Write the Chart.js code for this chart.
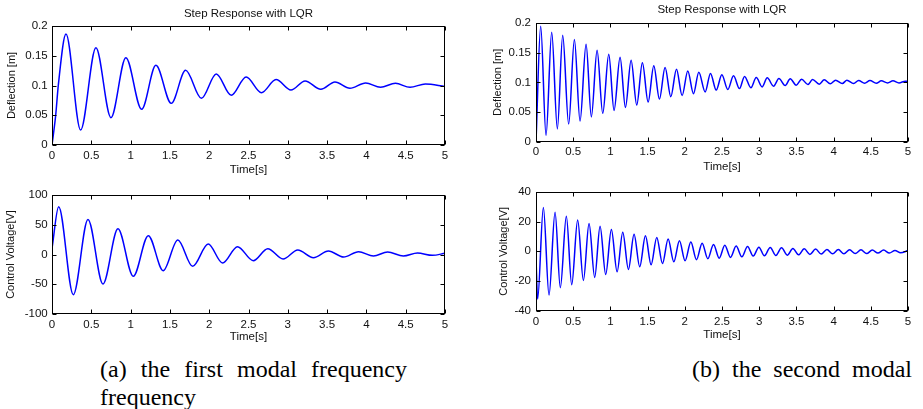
<!DOCTYPE html>
<html><head><meta charset="utf-8">
<script src="https://cdn.jsdelivr.net/npm/chart.js@4"></script>
<style>
html,body{margin:0;padding:0;background:#fff;}
body{width:923px;height:409px;position:relative;overflow:hidden;}
canvas{position:absolute;}
.cap{position:absolute;font-family:"Liberation Serif","Times New Roman",serif;font-size:24px;line-height:28px;color:#000;white-space:nowrap;}
.just{white-space:normal;text-align:justify;text-align-last:justify;}
</style></head><body>
<canvas id="c1" width="460" height="180" style="left:0;top:0"></canvas>
<canvas id="c2" width="460" height="170" style="left:0;top:180px"></canvas>
<canvas id="c3" width="463" height="180" style="left:460px;top:0"></canvas>
<canvas id="c4" width="463" height="170" style="left:460px;top:180px"></canvas>
<div class="cap just" style="left:100px;top:355px;width:307px">(a) the first modal frequency</div>
<div class="cap" style="left:100px;top:383px">frequency</div>
<div class="cap just" style="left:692px;top:355px;width:220px">(b) the second modal</div>
<script>
// ---------- data ----------
const titleText = 'Step Response with LQR';
const xTitle = 'Time[s]';
const yTitleDefl = 'Deflection [m]';
const yTitleVolt = 'Control Voltage[V]';

const xTicks = [0, 0.5, 1, 1.5, 2, 2.5, 3, 3.5, 4, 4.5, 5];
const xTickLabels = ['0', '0.5', '1', '1.5', '2', '2.5', '3', '3.5', '4', '4.5', '5'];
const yTicksDefl = [0, 0.05, 0.1, 0.15, 0.2];
const yTickLabelsDefl = ['0', '0.05', '0.1', '0.15', '0.2'];
const yTicksVoltA = [-100, -50, 0, 50, 100];
const yTickLabelsVoltA = ['-100', '-50', '0', '50', '100'];
const yTicksVoltB = [-40, -20, 0, 20, 40];
const yTickLabelsVoltB = ['-40', '-20', '0', '20', '40'];

// (a) first modal frequency - deflection
const timeDeflA = [0, 0.047, 0.08, 0.178, 0.364, 0.559, 0.75, 0.94, 1.14, 1.322, 1.517, 1.70, 1.90, 2.09, 2.28, 2.47, 2.665, 2.85, 3.04, 3.22, 3.42, 3.60, 3.79, 3.99, 4.18, 4.37, 4.555, 4.75, 5.0];
const deflA = [0, 0.05, 0.1, 0.1866, 0.0252, 0.1636, 0.046, 0.1468, 0.060, 0.134, 0.070, 0.1255, 0.0784, 0.1193, 0.0835, 0.1143, 0.088, 0.110, 0.0924, 0.1076, 0.0936, 0.1059, 0.0952, 0.1042, 0.097, 0.1036, 0.097, 0.1025, 0.0985];

// (a) first modal frequency - control voltage
const timeVoltA = [0, 0.085, 0.271, 0.458, 0.648, 0.839, 1.034, 1.225, 1.415, 1.60, 1.79, 1.987, 2.17, 2.36, 2.56, 2.745, 2.94, 3.127, 3.326, 3.517, 3.71, 3.90, 4.09, 4.27, 4.47, 4.65, 4.84, 5.0];
const voltA = [10, 80.4, -67.5, 59, -49.6, 43.4, -36.7, 31.7, -27.2, 24.4, -19.9, 17.6, -14.3, 13.2, -10.4, 9.8, -7.6, 7.6, -5.3, 5.9, -4.2, 4.8, -2.5, 4.2, -2.5, 2.5, -1.4, 2];

// (b) second modal frequency - deflection
const timeDeflB = [0, 0.063, 0.135, 0.211, 0.287, 0.359, 0.439, 0.516, 0.592, 0.673, 0.744, 0.821, 0.897, 0.978, 1.049, 1.130, 1.202, 1.278, 1.354, 1.430, 1.507, 1.583, 1.659, 1.735, 1.812, 1.888, 1.964, 2.040, 2.117, 2.188, 2.274, 2.345, 2.422, 2.498, 2.578, 2.655, 2.735, 2.803, 2.888, 2.960, 3.040, 3.108, 3.193, 3.265, 3.350, 3.417, 3.498, 3.570, 3.655, 3.717, 3.807, 3.874, 3.955, 4.027, 4.117, 4.179, 4.269, 4.336, 4.417, 4.489, 4.574, 4.641, 4.726, 4.798, 4.879, 4.964, 5.0];
const deflB = [0, 0.194, 0.011, 0.184, 0.022, 0.179, 0.030, 0.172, 0.035, 0.164, 0.042, 0.154, 0.048, 0.147, 0.053, 0.142, 0.058, 0.137, 0.062, 0.133, 0.067, 0.128, 0.072, 0.125, 0.076, 0.122, 0.078, 0.119, 0.081, 0.117, 0.084, 0.115, 0.087, 0.1126, 0.088, 0.111, 0.0896, 0.110, 0.091, 0.108, 0.0924, 0.1076, 0.0936, 0.1064, 0.0947, 0.1059, 0.0952, 0.1053, 0.0964, 0.1047, 0.097, 0.1042, 0.0975, 0.1036, 0.098, 0.1036, 0.098, 0.103, 0.0986, 0.103, 0.0986, 0.1025, 0.099, 0.1025, 0.099, 0.102, 0.1015];

// (b) second modal frequency - control voltage
const timeVoltB = [0, 0.022, 0.099, 0.175, 0.256, 0.327, 0.408, 0.48, 0.56, 0.637, 0.713, 0.789, 0.861, 0.937, 1.013, 1.09, 1.166, 1.242, 1.318, 1.394, 1.471, 1.547, 1.623, 1.70, 1.776, 1.852, 1.928, 2.004, 2.081, 2.157, 2.233, 2.309, 2.386, 2.462, 2.538, 2.614, 2.69, 2.767, 2.843, 2.919, 2.996, 3.07, 3.148, 3.224, 3.30, 3.377, 3.453, 3.529, 3.605, 3.682, 3.758, 3.834, 3.91, 3.987, 4.063, 4.139, 4.215, 4.291, 4.368, 4.444, 4.52, 4.596, 4.672, 4.749, 4.825, 4.90, 5.0];
const voltB = [-5, -32.2, 29.5, -29.5, 26.3, -24.5, 23.6, -22.5, 21, -19.6, 18.7, -17.6, 16.9, -15.6, 14.7, -13.8, 12.9, -12.2, 11.5, -10.4, 10.4, -9.1, 9.3, -8.2, 8.2, -7.1, 7.1, -6.4, 6.2, -5.7, 5.5, -5.0, 4.6, -4.6, 4.1, -4.1, 3.5, -3.7, 3.2, -3.2, 2.8, -3.0, 2.6, -2.8, 2.4, -2.6, 1.9, -2.4, 1.7, -2.1, 1.5, -1.9, 1.2, -1.7, 1.2, -1.7, 1.0, -1.5, 1.0, -1.5, 0.8, -1.2, 0.8, -1.2, 0.6, -1.0, 0.5];

// ---------- rendering ----------
Chart.defaults.font.family = '"Liberation Sans", Arial, Helvetica, sans-serif';
Chart.defaults.color = '#111';

const boxPlugin = {
  id: 'matlabBox',
  afterDatasetsDraw(chart) {
    const {ctx, chartArea: a, scales: {x, y}} = chart;
    const L = 4;
    const l = Math.round(a.left) + 0.5, r = Math.round(a.right) - 0.5;
    const t = Math.round(a.top) + 0.5, b = Math.round(a.bottom) - 0.5;
    ctx.save();
    ctx.strokeStyle = '#000';
    ctx.lineWidth = 1;
    ctx.beginPath();
    x.ticks.forEach(tk => {
      const px = Math.round(x.getPixelForValue(tk.value)) + 0.5;
      ctx.moveTo(px, b); ctx.lineTo(px, b - L);
      ctx.moveTo(px, t); ctx.lineTo(px, t + L);
    });
    y.ticks.forEach(tk => {
      const py = Math.round(y.getPixelForValue(tk.value)) + 0.5;
      ctx.moveTo(l, py); ctx.lineTo(l + L, py);
      ctx.moveTo(r, py); ctx.lineTo(r - L, py);
    });
    ctx.stroke();
    ctx.strokeRect(l, t, r - l, b - t);
    ctx.restore();
  }
};

function makeChart(id, times, values, o) {
  const ctx = document.getElementById(id);
  return new Chart(ctx, {
    type: 'line',
    data: {
      datasets: [{
        data: times.map((t, i) => ({x: t, y: values[i]})),
        borderColor: 'rgb(0,0,255)',
        borderWidth: 1.5,
        pointRadius: 0,
        fill: false,
        cubicInterpolationMode: 'monotone'
      }]
    },
    options: {
      responsive: false,
      animation: false,
      events: [],
      layout: {padding: {left: 0, right: o.padRight, top: o.padTop, bottom: 0}},
      plugins: {
        legend: {display: false},
        tooltip: {enabled: false},
        title: o.title ? {
          display: true, text: o.title, fullSize: false,
          font: {size: 11.5, weight: 'normal', lineHeight: 1.2},
          color: '#111',
          padding: {top: o.titlePadTop, bottom: o.titlePadBottom}
        } : {display: false}
      },
      scales: {
        x: {
          type: 'linear', min: 0, max: 5,
          grid: {display: false, drawTicks: false},
          border: {display: false},
          afterBuildTicks: s => { s.ticks = xTicks.map(v => ({value: v})); },
          afterFit: s => { s.height = o.xHeight; },
          ticks: {
            autoSkip: false, maxRotation: 0, padding: o.xTickPad,
            font: {size: 11.5, lineHeight: 1.2},
            callback: (v, i) => xTickLabels[i]
          },
          title: {display: true, text: xTitle, font: {size: 11.5, lineHeight: 1.2},
                  padding: {top: 0, bottom: o.xTitlePad}}
        },
        y: {
          type: 'linear', min: o.yTicks[0], max: o.yTicks[o.yTicks.length - 1],
          grid: {display: false, drawTicks: false},
          border: {display: false},
          afterBuildTicks: s => { s.ticks = o.yTicks.map(v => ({value: v})); },
          afterFit: s => { s.width = o.yWidth; },
          ticks: {
            autoSkip: false, padding: o.yTickPad,
            font: {size: 11.5, lineHeight: 1.2},
            callback: (v, i) => o.yLabels[i]
          },
          title: {display: true, text: o.yTitle, font: {size: 11, lineHeight: 1.2},
                  padding: {top: o.yTitlePad, bottom: 0}}
        }
      }
    },
    plugins: [boxPlugin]
  });
}

// (a) top: plot area x 52..445, y 26..145
makeChart('c1', timeDeflA, deflA, {
  title: titleText, titlePadTop: 7.1, titlePadBottom: 5.1,
  padTop: 0, padRight: 15, xHeight: 35, yWidth: 52,
  xTickPad: 3.8, xTitlePad: 3.1, yTickPad: 4.3, yTitlePad: 5.1,
  yTicks: yTicksDefl, yLabels: yTickLabelsDefl, yTitle: yTitleDefl
});
// (a) bottom: plot area x 52..445, y 195..314
makeChart('c2', timeVoltA, voltA, {
  title: null, padTop: 15, padRight: 15, xHeight: 36, yWidth: 52,
  xTickPad: 3.6, xTitlePad: 6.1, yTickPad: 4.3, yTitlePad: 4.4,
  yTicks: yTicksVoltA, yLabels: yTickLabelsVoltA, yTitle: yTitleVolt
});
// (b) top: plot area x 536..908, y 22.7..142
makeChart('c3', timeDeflB, deflB, {
  title: titleText, titlePadTop: 3.1, titlePadBottom: 5.8,
  padTop: 0, padRight: 15, xHeight: 38, yWidth: 76,
  xTickPad: 3.1, xTitlePad: 6.1, yTickPad: 5, yTitlePad: 31.4,
  yTicks: yTicksDefl, yLabels: yTickLabelsDefl, yTitle: yTitleDefl
});
// (b) bottom: plot area x 536..908, y 191.7..310.7
makeChart('c4', timeVoltB, voltB, {
  title: null, padTop: 11.7, padRight: 15, xHeight: 39.3, yWidth: 76,
  xTickPad: 4.1, xTitlePad: 8.1, yTickPad: 5, yTitlePad: 37.1,
  yTicks: yTicksVoltB, yLabels: yTickLabelsVoltB, yTitle: yTitleVolt
});
</script>
</body></html>
